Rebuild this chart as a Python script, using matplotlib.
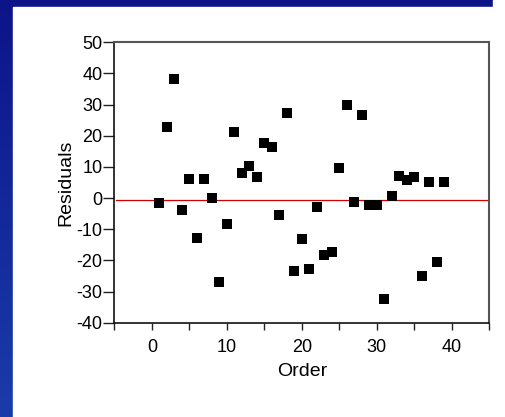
import matplotlib
matplotlib.use("Agg")
import matplotlib.pyplot as plt
import numpy as np
from matplotlib.patches import Rectangle

plt.rcParams['font.family'] = ['Liberation Sans', 'DejaVu Sans']
plt.rcParams['axes.unicode_minus'] = False

order = list(range(1, 40))
residuals = [-1.7, 22.7, 38.2, -3.8, 6.1, -12.9, 6.1, 0.1, -26.9, -8.3,
             21.1, 8.2, 10.3, 6.8, 17.8, 16.3, -5.3, 27.2, -23.3, -13.2,
             -22.8, -2.8, -18.4, -17.3, 9.8, 29.8, -1.3, 26.8, -2.3, -2.3,
             -32.4, 0.7, 7.2, 5.8, 6.7, -24.9, 5.3, -20.4, 5.3]
ref_line = -0.5
x_ticks = [0, 10, 20, 30, 40]
y_ticks = list(range(-40, 51, 10))

W, H = 506, 417
fig = plt.figure(figsize=(W / 100, H / 100), dpi=100)
fig.patch.set_facecolor('white')

# blue backdrop strips (left and top)
grad = np.linspace(0, 1, 256).reshape(-1, 1)
bg = fig.add_axes([0, 0, 1, 1], zorder=-10)
c_top = np.array([0x0c, 0x14, 0x88]) / 255
c_bot = np.array([0x1a, 0x3c, 0xaa]) / 255
img = c_top[None, None, :] * (1 - grad[:, :, None]) + c_bot[None, None, :] * grad[:, :, None]
bg.imshow(img, aspect='auto', extent=[0, 1, 0, 1], origin='upper')
bg.add_patch(Rectangle((13 / W, 0), (493 - 13) / W, (H - 7) / H, color='white', zorder=2))
bg.add_patch(Rectangle((493 / W, 0), 1 - 493 / W, 1, color='white', zorder=2))
bg.set_xlim(0, 1)
bg.set_ylim(0, 1)
bg.axis('off')

ax = fig.add_axes([114.5 / W, (H - 322.7) / H, (489.3 - 114.5) / W, (322.7 - 42.3) / H])
ax.set_facecolor('white')
ax.scatter(order, residuals, marker='s', s=7.2 ** 2, color='black', linewidths=0, zorder=3)
ax.axhline(ref_line, color='#d40000', lw=0.9, zorder=2, xmin=0.004, xmax=0.996)

ax.set_xlim(-5, 45)
ax.set_ylim(-40, 50)
ax.set_xticks(x_ticks)
ax.set_xticks(np.arange(-5, 46, 5), minor=True)
ax.set_yticks(y_ticks)
ax.tick_params(axis='both', which='both', direction='out', labelsize=13, colors='black')
ax.tick_params(axis='x', which='both', length=5.3, width=1.0, color='#222222', pad=6.5)
ax.tick_params(axis='y', which='both', length=8, width=1.0, color='#222222', pad=0.5)

for side in ['left', 'bottom']:
    ax.spines[side].set_color('#111111')
    ax.spines[side].set_linewidth(1.2)
for side in ['top', 'right']:
    ax.spines[side].set_color('#555555')
    ax.spines[side].set_linewidth(1.5)

ax.set_xlabel('Order', fontsize=14, labelpad=5)
ax.set_ylabel('Residuals', fontsize=14, labelpad=2)

fig.savefig('out.png', dpi=100)
